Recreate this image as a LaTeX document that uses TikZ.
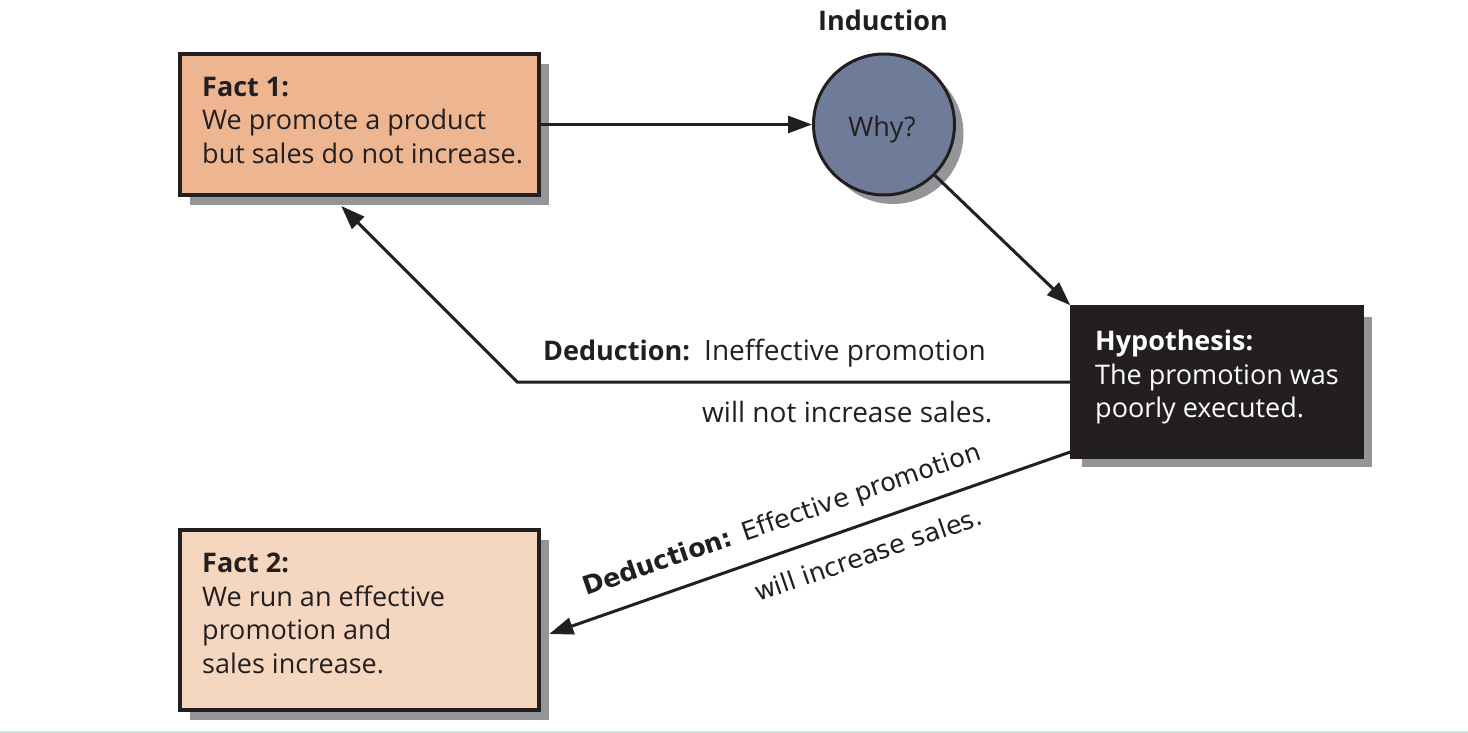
\documentclass[tikz,border=0pt]{standalone}
\usepackage{fontspec}
\setmainfont{Open Sans}[Ligatures=NoCommon]
\newfontfamily\dejavu{DejaVu Sans}[Ligatures=NoCommon]
\usetikzlibrary{arrows.meta,shadows}
\definecolor{ink}{HTML}{231F20}
\definecolor{f1fill}{HTML}{EDB691}
\definecolor{f2fill}{HTML}{F5D7BF}
\definecolor{whyfill}{HTML}{6E7B99}
\definecolor{shgray}{HTML}{939598}
\definecolor{botline}{HTML}{D5E2DD}
\newcommand{\bodyfont}{\fontsize{27}{33.5}\selectfont}
\newcommand{\labfont}{\fontsize{28}{33.5}\selectfont}
\tikzset{
  shad/.style={drop shadow={shadow xshift=10pt,shadow yshift=-10pt,fill=shgray,opacity=1}},
  box/.style={draw=ink,line width=3.5pt,rectangle,shad},
  txt/.style={font=\bodyfont,text=ink,inner sep=0pt,align=left,anchor=north west},
  lab/.style={font=\labfont,text=ink,inner sep=0pt,anchor=base west},
  dlab/.style={font=\dejavu\fontsize{25.5}{29}\selectfont,text=ink,inner sep=0pt,anchor=base west,rotate=19},
  arr/.style={draw=ink,line width=3pt,-{Triangle[length=24pt,width=17pt]}},
}
\begin{document}
\begin{tikzpicture}[x=1pt,y=-1pt]
\useasboundingbox (0,0) rectangle (1468,733);
\fill[white] (0,0) rectangle (1468,733);
\fill[botline] (0,730.5) rectangle (1468,733);
% boxes
\node[box,fill=f1fill,minimum width=359pt,minimum height=141pt] (f1) at (359.5,124.5) {};
\node[box,fill=f2fill,minimum width=359pt,minimum height=180pt] (f2) at (359.5,620) {};
\node[box,fill=ink,minimum width=290pt,minimum height=150pt] (hyp) at (1217,382) {};
\node[circle,draw=ink,line width=3pt,fill=whyfill,minimum size=141pt,inner sep=0pt,
      drop shadow={shadow xshift=9pt,shadow yshift=-9pt,fill=shgray,opacity=1}] (why) at (884,124.5) {};
% texts
\node[txt] (f1t) at (202,77) {\textbf{Fact 1:}\\We promote a product\\but sales do not increase.};
\node[txt] (f2t) at (202,553) {\textbf{Fact 2:}\\We run an effective\\promotion and\\sales increase.};
\node[txt,text=white] (hypt) at (1095,330) {\textbf{Hypothesis:}\\The promotion was\\poorly executed.};
\node[lab,font=\bodyfont,anchor=base] (whyt) at (882,137) {Why?};
\node[lab,font=\bodyfont,anchor=base] (ind) at (883,31) {\textbf{Induction}};
\node[lab,font=\bodyfont] (d1a) at (543,360) {\textbf{Deduction:}};
\node[lab] (d1b) at (704,360) {Ineffective promotion};
\node[lab] (d1c) at (702,422) {will not increase sales.};
\node[dlab] (d2a) at (586,596) {\textbf{Deduction:}\hspace{0.45em}Effective promotion};
\node[dlab] (d2b) at (758,602) {will increase sales.};
% connectors
\draw[arr] (f1.east) -- (why.west);
\draw[arr] (why.south east) -- (hyp.north west);
\draw[arr] (hyp.west) -- ++(-553,0) -- ++(-176,-176);
\draw[arr] ([yshift=-70pt]hyp.west) -- ++(-521,182);
\end{tikzpicture}
\end{document}
